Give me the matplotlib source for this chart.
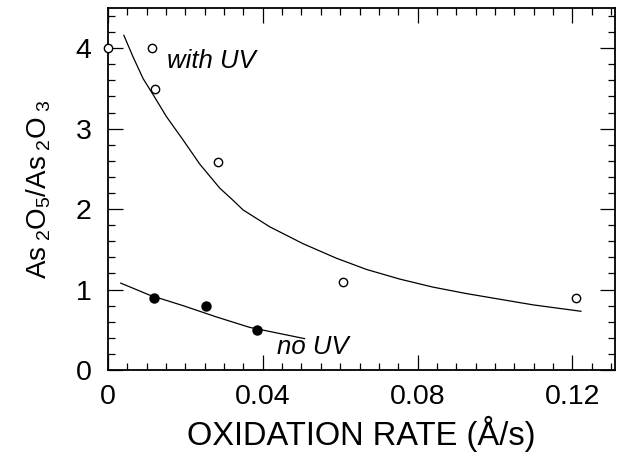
import matplotlib
matplotlib.use('Agg')
import matplotlib.pyplot as plt
from matplotlib.ticker import MultipleLocator

plt.rcParams['font.family'] = ['Liberation Sans', 'DejaVu Sans']
plt.rcParams['mathtext.fontset'] = 'custom'
plt.rcParams['mathtext.rm'] = 'Liberation Sans'
plt.rcParams['mathtext.it'] = 'Liberation Sans:italic'

# measured points
uv_x = [0.0, 0.0114, 0.0121, 0.0284, 0.0606, 0.121]
uv_y = [4.0, 4.0, 3.49, 2.58, 1.10, 0.89]
nouv_x = [0.0120, 0.0253, 0.0384]
nouv_y = [0.90, 0.80, 0.50]

# fitted curves
fit_uv_x = [0.0041, 0.0065, 0.0091, 0.0117, 0.0151, 0.0194, 0.0237, 0.0289,
            0.0323, 0.0349, 0.0418, 0.0504, 0.0590, 0.0668, 0.0754, 0.0840,
            0.0926, 0.1012, 0.1098, 0.1222]
fit_uv_y = [4.16, 3.89, 3.62, 3.42, 3.15, 2.86, 2.56, 2.26,
            2.11, 1.99, 1.78, 1.57, 1.39, 1.25, 1.13, 1.03,
            0.95, 0.88, 0.81, 0.73]
fit_nouv_x = [0.0033, 0.0108, 0.0194, 0.0280, 0.0366, 0.0508]
fit_nouv_y = [1.08, 0.93, 0.80, 0.66, 0.53, 0.39]

fig = plt.figure(figsize=(6.22, 4.59), dpi=100)
ax = fig.add_axes([0.1736, 0.1939, 0.8151, 0.7887])

ax.plot(fit_uv_x, fit_uv_y, 'k-', lw=0.9)
ax.plot(fit_nouv_x, fit_nouv_y, 'k-', lw=0.9)
ax.plot(uv_x, uv_y, 'o', mfc='white', mec='black', mew=1.0, ms=6, clip_on=False, zorder=3)
ax.plot(nouv_x, nouv_y, 'o', mfc='black', mec='black', ms=6.5, zorder=3)

ax.text(0.0152, 3.76, 'with UV', fontsize=18.5, style='italic')
ax.text(0.0436, 0.20, 'no UV', fontsize=18.5, style='italic')

ax.set_xlim(0, 0.131)
ax.set_ylim(0, 4.5)
ax.xaxis.set_major_locator(MultipleLocator(0.04))
ax.xaxis.set_minor_locator(MultipleLocator(0.005))
ax.yaxis.set_major_locator(MultipleLocator(1))
ax.yaxis.set_minor_locator(MultipleLocator(0.2))
ax.xaxis.set_major_formatter(plt.FuncFormatter(lambda v, p: '0' if v == 0 else '%g' % v))

ax.tick_params(which='both', direction='in', top=True, right=True, width=0.9)
ax.tick_params(which='major', length=11, labelsize=20.5)
ax.tick_params(axis='x', which='major', pad=10)
ax.tick_params(axis='y', which='major', pad=12)
ax.tick_params(which='minor', length=5)
for s in ax.spines.values():
    s.set_linewidth(1.3)

ax.set_xlabel('OXIDATION RATE (Å/s)', fontsize=23.5, labelpad=4)
ax.set_ylabel(r'As$_{\ 2}$O$_5$/As$_{\ 2}$O$_{\ 3}$', fontsize=20, labelpad=16)

fig.savefig('out.png', dpi=100)
